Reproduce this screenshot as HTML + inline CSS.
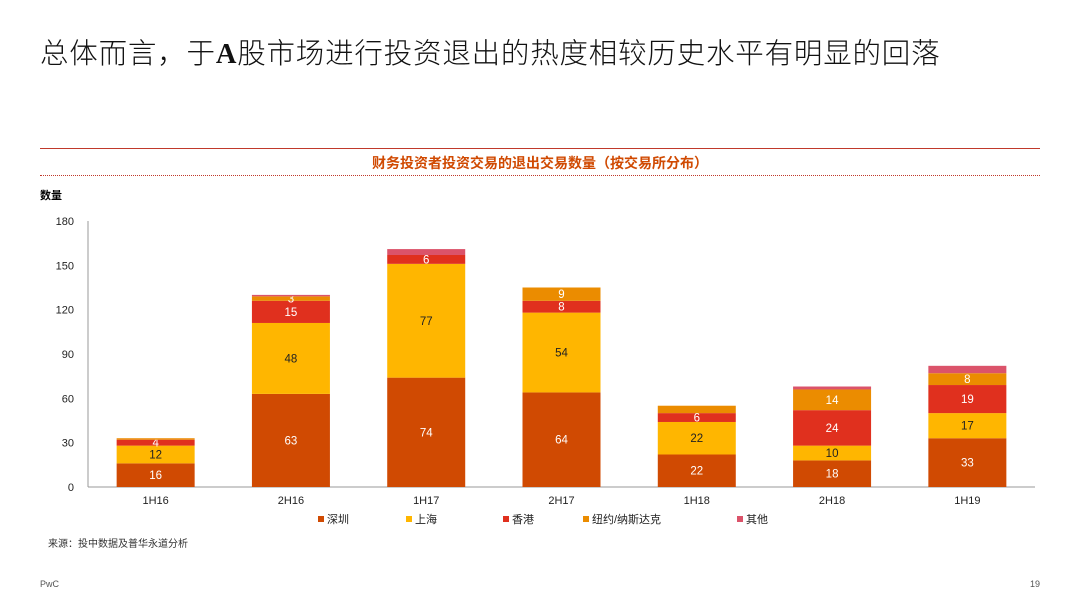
<!DOCTYPE html>
<html><head><meta charset="utf-8"><style>
body{margin:0;width:1080px;height:608px;background:#fff;font-family:"Liberation Sans","Noto Sans CJK SC",sans-serif;position:relative;overflow:hidden}
.t{position:absolute;white-space:nowrap}
</style></head><body>
<div class="t" style="left:40px;top:31px;font-size:28.5px;color:#111;font-family:'Noto Sans CJK SC',sans-serif;font-weight:300;letter-spacing:0.8px">总体而言，于<span style="font-family:'Liberation Serif',serif;font-weight:bold">A</span>股市场进行投资退出的热度相较历史水平有明显的回落</div>
<div style="position:absolute;left:40px;top:148px;width:1000px;height:1px;background:#c0392b"></div>
<div class="t" style="left:0;width:1080px;text-align:center;top:153px;font-size:14px;font-weight:bold;color:#d04a02">财务投资者投资交易的退出交易数量（按交易所分布）</div>
<div style="position:absolute;left:40px;top:175px;width:1000px;border-top:1px dotted #c0392b"></div>
<div class="t" style="left:40px;top:187px;font-size:11px;font-weight:bold">数量</div>
<svg id="c" width="1080" height="608" style="position:absolute;left:0;top:0"></svg>
<div class="t" style="left:48px;top:535px;font-size:10px;color:#333">来源：投中数据及普华永道分析</div>
<div class="t" style="left:40px;top:579px;font-size:9px;color:#555">PwC</div>
<div class="t" style="left:1030px;top:579px;font-size:9px;color:#555">19</div>
<script>
const categories=["1H16","2H16","1H17","2H17","1H18","2H18","1H19"];
const seriesNames=["深圳","上海","香港","纽约/纳斯达克","其他"];
const shenzhen=[16,63,74,64,22,18,33];
const shanghai=[12,48,77,54,22,10,17];
const hongkong=[4,15,6,8,6,24,19];
const newyork=[1,3,0,9,5,14,8];
const other=[0,1,4,0,0,2,5];
const yTicks=[0,30,60,90,120,150,180];
const series=[shenzhen,shanghai,hongkong,newyork,other];
const colors=["#d04a02","#ffb600","#e0301e","#eb8c00","#db536a"];
const labelColors=["#fff","#222","#fff","#fff","#fff"];
const svg=document.getElementById('c');const NS="http://www.w3.org/2000/svg";
const y0=487,y1=221,x0=88,x1=1035;
const y=v=>y0-(v/180)*(y0-y1);
const band=(x1-x0)/categories.length;
const xc=i=>x0+band*(i+0.5);
function mk(tag,a,txt){const e=document.createElementNS(NS,tag);for(const k in a)e.setAttribute(k,a[k]);if(txt!=null)e.textContent=txt;svg.appendChild(e);return e;}
yTicks.forEach(t=>{
const e=mk('text',{x:74,y:y(t)+4,'text-anchor':'end','font-size':11,fill:'#222'},t);


});
const ax=mk('line',{x1:x0,x2:x0,y1:y1,y2:y0,stroke:'#999'});


const bx=mk('line',{x1:x0,x2:x1,y1:y0,y2:y0,stroke:'#999'});


categories.forEach((c,i)=>{
let acc=0;const w=78,cx=xc(i);
series.forEach((s,k)=>{
const v=s[i];if(!v)return;
const r=mk('rect',{x:cx-w/2,y:y(acc+v),width:w,height:y(acc)-y(acc+v),fill:colors[k]});


if(k<4&&v>=3&&!(k==3&&v==5)){const l=mk('text',{x:cx,y:(y(acc)+y(acc+v))/2+4,'text-anchor':'middle','font-size':11.5,fill:labelColors[k]},v);

}
acc+=v;});
const xl=mk('text',{x:cx,y:504,'text-anchor':'middle','font-size':11,fill:'#222'},c);


});
const lx=[318,406,503,583,737];
seriesNames.forEach((n,k)=>{
const r=mk('rect',{x:lx[k],y:516,width:6,height:6,fill:colors[k]});


const t=mk('text',{x:lx[k]+9,y:523,'font-size':11,fill:'#222'},n);


});
</script>
</body></html>
